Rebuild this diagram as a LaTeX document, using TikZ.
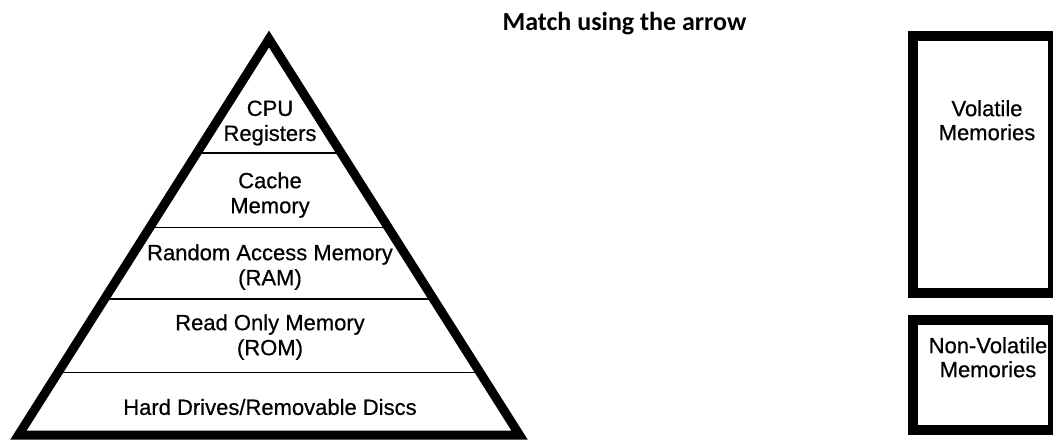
\documentclass[tikz,border=0pt]{standalone}
\usepackage{fontspec}
\setmainfont{Liberation Sans}
\newfontfamily\labelfont[FakeBold=0.6]{Liberation Sans}
\newfontfamily\headfont{Carlito}
\usetikzlibrary{positioning,calc}
\tikzset{
  % Pyramid outline and the thin dividers between tiers
  pyramid/.style={draw, line width=9pt, line join=miter},
  tierline/.style={line width=1.4pt},
  tierlabel/.style={align=center, inner sep=0pt, font=\labelfont\fontsize{22}{25}\selectfont},
  % Answer boxes on the right
  membox/.style={draw, rectangle, line width=10pt, inner sep=0pt, minimum width=140pt},
  memlabel/.style={align=center, inner sep=0pt, font=\labelfont\fontsize{22}{24}\selectfont},
  % Task heading
  heading/.style={inner sep=0pt, font=\headfont\bfseries\fontsize{26}{29}\selectfont}
}

\begin{document}
\begin{tikzpicture}[x=1pt, y=-1pt]
\useasboundingbox (0,0) rectangle (1053,440);

% ============== MEMORY PYRAMID ==============
\coordinate (apex) at (269,39);
\coordinate (bl) at (18.5,435);
\coordinate (br) at (519.5,435);

\foreach \t in {0.288,0.476,0.657,0.842}
  \draw[tierline] ($(apex)!\t!(bl)$) -- ($(apex)!\t!(br)$);
\draw[pyramid] (apex) -- (bl) -- (br) -- cycle;

\node[tierlabel] (cpu) at (270,123) {CPU\\Registers};
\node[tierlabel] (cache) at (270,195) {Cache\\Memory};
\node[tierlabel] (ram) at (270,267) {Random Access Memory\\(RAM)};
\node[tierlabel] (rom) at (270,337) {Read Only Memory\\(ROM)};
\node[tierlabel] (hdd) at (270,407) {Hard Drives/Removable Discs};

% ============== HEADING ==============
\node[heading, anchor=base] (task) at (624.5,30) {Match using the arrow};

% ============== VOLATILE / NON-VOLATILE ==============
\node[membox, minimum height=257pt] (volbox) at (983,164.5) {};
\node[memlabel, below=69pt of volbox.north, xshift=4pt] (vollabel) {Volatile\\Memories};

\node[membox, minimum height=110pt] (nvbox) at (983,375) {};
\node[memlabel, below=22pt of nvbox.north, xshift=5pt] (nvlabel) {Non-Volatile\\Memories};

\end{tikzpicture}
\end{document}
